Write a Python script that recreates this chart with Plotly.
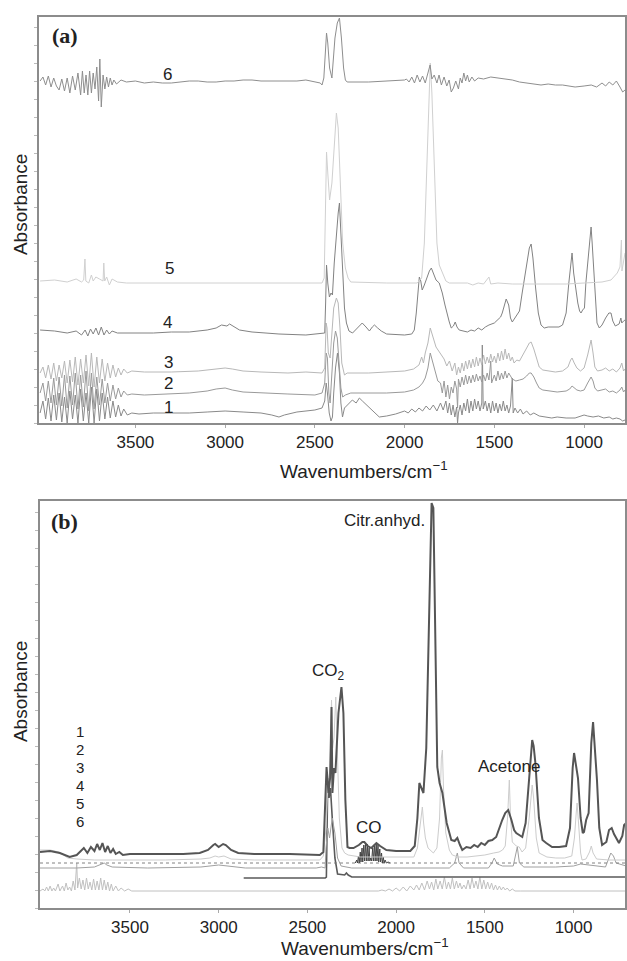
import plotly.graph_objects as go

# ---------------- Panel (a): wavenumber (cm-1), absorbance (a.u.) ----------------
a6 = [(4031, 3.42), (4015, 3.46), (4000, 3.38), (3985, 3.47), (3970, 3.36), (3955, 3.45), (3940, 3.37),
      (3925, 3.33), (3910, 3.44), (3895, 3.32), (3880, 3.45), (3865, 3.30), (3850, 3.47), (3835, 3.33),
      (3820, 3.50), (3805, 3.28), (3795, 3.52), (3785, 3.30), (3775, 3.48), (3765, 3.28), (3755, 3.52),
      (3745, 3.30), (3735, 3.50), (3725, 3.34), (3715, 3.56), (3705, 3.22), (3698, 3.64), (3690, 3.16),
      (3680, 3.48), (3670, 3.34), (3660, 3.46), (3650, 3.36), (3640, 3.45), (3630, 3.38), (3620, 3.43),
      (3605, 3.39), (3580, 3.43), (3550, 3.41), (3500, 3.42), (3450, 3.40), (3400, 3.41), (3350, 3.40),
      (3300, 3.40), (3250, 3.41), (3200, 3.42), (3150, 3.42), (3100, 3.41), (3050, 3.41), (3000, 3.42),
      (2950, 3.42), (2900, 3.43), (2850, 3.43), (2800, 3.42), (2750, 3.42), (2700, 3.42), (2650, 3.42),
      (2600, 3.42), (2550, 3.43), (2470, 3.40), (2460, 3.38), (2450, 3.45), (2440, 3.75), (2435, 3.90),
      (2428, 3.80), (2418, 3.55), (2405, 3.45), (2398, 3.60), (2388, 3.85), (2375, 4.00), (2363, 4.05),
      (2352, 3.85), (2340, 3.55), (2330, 3.43), (2320, 3.41), (2200, 3.41), (2100, 3.42), (2030, 3.42),
      (2000, 3.43), (1990, 3.44), (1975, 3.41), (1960, 3.46), (1945, 3.40), (1930, 3.48), (1915, 3.41),
      (1900, 3.47), (1885, 3.40), (1870, 3.50), (1858, 3.58), (1848, 3.44), (1835, 3.48), (1820, 3.40),
      (1808, 3.48), (1795, 3.38), (1780, 3.46), (1765, 3.37), (1752, 3.43), (1740, 3.31), (1728, 3.35),
      (1715, 3.42), (1700, 3.34), (1690, 3.45), (1680, 3.40), (1670, 3.50), (1660, 3.42), (1650, 3.48),
      (1640, 3.41), (1625, 3.46), (1610, 3.42), (1590, 3.45), (1560, 3.44), (1520, 3.46), (1480, 3.45),
      (1440, 3.44), (1400, 3.43), (1360, 3.41), (1320, 3.40), (1280, 3.39), (1240, 3.38), (1200, 3.39),
      (1160, 3.38), (1120, 3.38), (1080, 3.37), (1050, 3.36), (1000, 3.37), (960, 3.38), (930, 3.36),
      (900, 3.40), (880, 3.37), (860, 3.41), (840, 3.38), (820, 3.42), (800, 3.36), (785, 3.31), (772, 3.33)]

a5 = [(4031, 1.42), (3950, 1.43), (3880, 1.41), (3830, 1.44), (3800, 1.41), (3788, 1.43), (3781, 1.64),
      (3776, 1.42), (3760, 1.40), (3745, 1.48), (3735, 1.42), (3720, 1.46), (3700, 1.44), (3680, 1.42),
      (3676, 1.60), (3671, 1.42), (3660, 1.46), (3645, 1.38), (3630, 1.44), (3600, 1.41), (3550, 1.40),
      (3300, 1.40), (3000, 1.40), (2700, 1.40), (2460, 1.40), (2448, 1.45), (2440, 2.20), (2435, 2.71),
      (2428, 2.50), (2418, 2.23), (2405, 2.40), (2392, 2.80), (2380, 3.10), (2370, 2.95), (2360, 2.40),
      (2345, 1.80), (2330, 1.55), (2315, 1.45), (2300, 1.41), (2100, 1.40), (1930, 1.40), (1905, 1.45),
      (1890, 1.80), (1875, 2.60), (1865, 3.30), (1857, 3.60), (1848, 3.30), (1835, 2.50), (1820, 1.80),
      (1807, 1.58), (1790, 1.50), (1770, 1.42), (1751, 1.40), (1650, 1.40), (1620, 1.38), (1590, 1.40),
      (1560, 1.39), (1530, 1.46), (1520, 1.39), (1480, 1.40), (1400, 1.39), (1300, 1.39), (1200, 1.39),
      (1100, 1.39), (1000, 1.40), (900, 1.41), (850, 1.43), (815, 1.50), (800, 1.56), (792, 1.83),
      (789, 1.52), (780, 1.60), (772, 1.70)]

a4 = [(4031, 0.93), (3950, 0.92), (3880, 0.90), (3830, 0.92), (3800, 0.88), (3780, 0.93), (3765, 0.87),
      (3750, 0.94), (3735, 0.89), (3720, 0.95), (3705, 0.88), (3690, 0.96), (3675, 0.88), (3660, 0.93),
      (3645, 0.89), (3630, 0.92), (3600, 0.90), (3500, 0.90), (3400, 0.90), (3300, 0.91), (3200, 0.91),
      (3100, 0.93), (3050, 0.95), (3020, 0.98), (2990, 0.97), (2975, 0.99), (2950, 0.96), (2920, 0.93),
      (2850, 0.91), (2700, 0.89), (2550, 0.88), (2470, 0.89), (2445, 0.90), (2440, 1.20), (2435, 1.58),
      (2428, 1.40), (2419, 1.26), (2410, 1.30), (2402, 1.28), (2392, 1.60), (2380, 1.90), (2370, 2.10),
      (2363, 2.20), (2355, 1.90), (2345, 1.45), (2335, 1.15), (2324, 1.00), (2310, 0.92), (2290, 0.90),
      (2260, 0.95), (2236, 1.00), (2215, 0.96), (2196, 0.92), (2180, 0.96), (2168, 0.98), (2150, 0.95),
      (2130, 0.92), (2100, 0.89), (2000, 0.88), (1960, 0.89), (1946, 0.93), (1935, 1.10), (1925, 1.35),
      (1918, 1.46), (1910, 1.42), (1902, 1.33), (1890, 1.38), (1875, 1.46), (1862, 1.52), (1851, 1.55),
      (1840, 1.50), (1825, 1.43), (1807, 1.40), (1790, 1.30), (1775, 1.18), (1760, 1.06), (1751, 1.01),
      (1740, 0.95), (1728, 0.97), (1718, 1.01), (1708, 0.96), (1696, 0.93), (1670, 0.92), (1650, 0.91),
      (1630, 0.93), (1610, 0.92), (1590, 0.95), (1570, 0.93), (1550, 0.96), (1530, 0.98), (1500, 1.00),
      (1480, 1.04), (1465, 1.06), (1456, 1.10), (1445, 1.18), (1434, 1.24), (1420, 1.18), (1410, 1.05),
      (1400, 1.01), (1390, 1.04), (1375, 1.08), (1360, 1.12), (1345, 1.30), (1320, 1.60), (1305, 1.75),
      (1295, 1.79), (1285, 1.65), (1270, 1.35), (1255, 1.10), (1240, 0.98), (1222, 0.95), (1200, 0.96),
      (1170, 0.96), (1140, 0.96), (1120, 0.98), (1100, 1.10), (1085, 1.40), (1067, 1.70), (1058, 1.50),
      (1045, 1.30), (1035, 1.20), (1025, 1.12), (1017, 1.10), (1008, 1.13), (998, 1.15), (990, 1.40),
      (975, 1.70), (961, 1.96), (955, 1.80), (945, 1.50), (935, 1.15), (928, 1.00), (915, 0.95),
      (900, 0.98), (880, 1.05), (862, 1.10), (850, 1.10), (840, 1.02), (826, 0.97), (817, 0.98),
      (805, 0.99), (795, 1.05), (790, 1.00), (780, 1.02), (772, 1.03)]

a3 = [(4031, 0.50), (4015, 0.56), (4000, 0.45), (3985, 0.58), (3970, 0.44), (3955, 0.60), (3940, 0.42),
      (3925, 0.58), (3910, 0.45), (3895, 0.62), (3880, 0.40), (3865, 0.63), (3850, 0.41), (3835, 0.66),
      (3820, 0.38), (3805, 0.64), (3790, 0.40), (3775, 0.68), (3760, 0.37), (3745, 0.70), (3730, 0.36),
      (3715, 0.66), (3700, 0.40), (3685, 0.64), (3670, 0.42), (3655, 0.60), (3640, 0.45), (3625, 0.58),
      (3610, 0.46), (3595, 0.55), (3580, 0.48), (3565, 0.54), (3545, 0.50), (3520, 0.52), (3450, 0.51),
      (3300, 0.51), (3150, 0.52), (3050, 0.54), (3000, 0.55), (2960, 0.54), (2900, 0.52), (2800, 0.51),
      (2650, 0.50), (2550, 0.51), (2460, 0.50), (2445, 0.55), (2437, 1.00), (2432, 0.95), (2425, 0.70),
      (2415, 0.65), (2405, 0.90), (2395, 1.15), (2380, 1.25), (2370, 1.20), (2360, 0.95), (2350, 0.60),
      (2335, 0.48), (2320, 0.50), (2200, 0.50), (2100, 0.51), (2000, 0.52), (1950, 0.54), (1920, 0.58),
      (1905, 0.66), (1895, 0.60), (1885, 0.70), (1870, 0.80), (1857, 0.95), (1840, 0.85), (1825, 0.76),
      (1810, 0.72), (1795, 0.68), (1780, 0.64), (1765, 0.57), (1750, 0.62), (1735, 0.52), (1720, 0.60),
      (1710, 0.48), (1700, 0.56), (1690, 0.50), (1680, 0.60), (1670, 0.52), (1660, 0.62), (1650, 0.54),
      (1640, 0.63), (1630, 0.55), (1620, 0.64), (1610, 0.56), (1600, 0.66), (1590, 0.57), (1580, 0.65),
      (1570, 0.58), (1560, 0.68), (1550, 0.59), (1540, 0.66), (1530, 0.60), (1520, 0.69), (1510, 0.61),
      (1500, 0.67), (1490, 0.60), (1480, 0.70), (1470, 0.62), (1460, 0.72), (1450, 0.63), (1440, 0.74),
      (1430, 0.64), (1420, 0.70), (1410, 0.62), (1400, 0.66), (1390, 0.60), (1375, 0.63), (1360, 0.62),
      (1340, 0.68), (1320, 0.75), (1305, 0.80), (1295, 0.81), (1280, 0.74), (1265, 0.64), (1250, 0.56),
      (1230, 0.53), (1200, 0.52), (1160, 0.51), (1120, 0.52), (1090, 0.56), (1075, 0.63), (1067, 0.65),
      (1055, 0.60), (1040, 0.55), (1020, 0.52), (1000, 0.55), (980, 0.68), (961, 0.83), (950, 0.70),
      (940, 0.56), (925, 0.52), (900, 0.53), (880, 0.55), (860, 0.52), (840, 0.54), (820, 0.51),
      (800, 0.55), (790, 0.60), (780, 0.52), (772, 0.54)]

a2 = [(4031, 0.30), (4015, 0.40), (4000, 0.22), (3985, 0.42), (3970, 0.20), (3955, 0.45), (3940, 0.18),
      (3925, 0.46), (3910, 0.17), (3895, 0.48), (3880, 0.15), (3865, 0.47), (3850, 0.18), (3835, 0.50),
      (3820, 0.14), (3805, 0.48), (3790, 0.16), (3775, 0.52), (3760, 0.12), (3745, 0.50), (3730, 0.14),
      (3715, 0.46), (3700, 0.18), (3685, 0.44), (3670, 0.20), (3655, 0.40), (3640, 0.22), (3625, 0.38),
      (3610, 0.24), (3595, 0.35), (3580, 0.26), (3565, 0.32), (3545, 0.28), (3520, 0.29), (3450, 0.28),
      (3350, 0.29), (3200, 0.30), (3100, 0.32), (3050, 0.34), (3000, 0.35), (2960, 0.33), (2900, 0.31),
      (2800, 0.30), (2650, 0.29), (2500, 0.28), (2460, 0.30), (2445, 0.40), (2437, 0.70), (2430, 0.65),
      (2422, 0.30), (2415, 0.20), (2405, 0.50), (2395, 0.80), (2385, 0.92), (2375, 0.85), (2365, 0.60),
      (2355, 0.35), (2345, 0.26), (2330, 0.28), (2300, 0.30), (2200, 0.30), (2100, 0.30), (2000, 0.31),
      (1950, 0.33), (1920, 0.36), (1900, 0.40), (1885, 0.45), (1870, 0.55), (1857, 0.70), (1845, 0.62),
      (1830, 0.50), (1815, 0.42), (1800, 0.40), (1790, 0.30), (1780, 0.42), (1770, 0.26), (1760, 0.38),
      (1750, 0.24), (1740, 0.36), (1730, 0.30), (1720, 0.42), (1710, 0.34), (1705, 0.15), (1700, 0.44),
      (1690, 0.36), (1680, 0.46), (1670, 0.38), (1660, 0.48), (1650, 0.39), (1640, 0.47), (1630, 0.40),
      (1620, 0.48), (1610, 0.41), (1600, 0.49), (1590, 0.42), (1580, 0.47), (1570, 0.41), (1560, 0.48),
      (1550, 0.42), (1540, 0.50), (1530, 0.43), (1520, 0.62), (1515, 0.40), (1500, 0.48), (1490, 0.42),
      (1480, 0.52), (1470, 0.43), (1460, 0.50), (1450, 0.44), (1440, 0.52), (1430, 0.45), (1420, 0.50),
      (1400, 0.44), (1380, 0.42), (1360, 0.43), (1340, 0.44), (1320, 0.47), (1305, 0.50), (1295, 0.50),
      (1280, 0.46), (1265, 0.40), (1250, 0.35), (1230, 0.33), (1200, 0.32), (1150, 0.31), (1100, 0.32),
      (1080, 0.34), (1067, 0.37), (1055, 0.35), (1040, 0.33), (1020, 0.32), (1000, 0.33), (980, 0.40),
      (961, 0.46), (950, 0.42), (940, 0.35), (925, 0.32), (900, 0.33), (880, 0.34), (860, 0.31),
      (840, 0.32), (820, 0.30), (800, 0.33), (790, 0.36), (780, 0.31), (772, 0.33)]

a1 = [(4031, 0.10), (4015, 0.22), (4000, 0.04), (3985, 0.25), (3970, 0.02), (3955, 0.28), (3940, 0.03),
      (3925, 0.30), (3910, 0.01), (3895, 0.26), (3880, 0.00), (3865, 0.32), (3850, 0.04), (3835, 0.28),
      (3820, 0.00), (3805, 0.34), (3790, 0.02), (3775, 0.30), (3760, 0.00), (3745, 0.36), (3730, 0.00),
      (3715, 0.34), (3700, 0.02), (3685, 0.30), (3670, 0.04), (3655, 0.26), (3640, 0.05), (3625, 0.22),
      (3610, 0.06), (3595, 0.18), (3580, 0.07), (3565, 0.14), (3545, 0.08), (3520, 0.10), (3480, 0.09),
      (3400, 0.10), (3300, 0.10), (3200, 0.10), (3100, 0.11), (3000, 0.12), (2900, 0.11), (2800, 0.10),
      (2740, 0.08), (2700, 0.06), (2670, 0.08), (2600, 0.11), (2500, 0.13), (2460, 0.15), (2445, 0.22),
      (2437, 0.40), (2430, 0.30), (2420, 0.10), (2410, 0.02), (2402, 0.06), (2395, 0.30), (2385, 0.55),
      (2374, 0.70), (2363, 0.50), (2355, 0.20), (2346, 0.06), (2335, 0.15), (2320, 0.18), (2300, 0.22),
      (2291, 0.23), (2270, 0.20), (2252, 0.25), (2235, 0.22), (2200, 0.16), (2160, 0.10), (2141, 0.06),
      (2100, 0.07), (2050, 0.09), (2000, 0.12), (1980, 0.10), (1960, 0.14), (1940, 0.11), (1920, 0.15),
      (1900, 0.12), (1880, 0.17), (1860, 0.13), (1840, 0.18), (1820, 0.12), (1800, 0.20), (1785, 0.13),
      (1770, 0.22), (1760, 0.10), (1750, 0.20), (1740, 0.08), (1730, 0.18), (1720, 0.06), (1710, 0.16),
      (1705, 0.00), (1700, 0.10), (1690, 0.18), (1680, 0.08), (1670, 0.20), (1660, 0.12), (1650, 0.24),
      (1640, 0.10), (1630, 0.22), (1620, 0.12), (1610, 0.24), (1600, 0.14), (1590, 0.22), (1580, 0.12),
      (1570, 0.20), (1567, 0.78), (1562, 0.14), (1550, 0.22), (1540, 0.12), (1530, 0.20), (1520, 0.10),
      (1510, 0.22), (1500, 0.12), (1490, 0.20), (1480, 0.10), (1470, 0.19), (1460, 0.12), (1450, 0.22),
      (1440, 0.12), (1430, 0.18), (1420, 0.10), (1410, 0.17), (1400, 0.45), (1395, 0.10), (1385, 0.15),
      (1370, 0.10), (1355, 0.14), (1340, 0.09), (1320, 0.12), (1300, 0.08), (1280, 0.10), (1250, 0.07),
      (1220, 0.06), (1180, 0.05), (1150, 0.06), (1100, 0.05), (1050, 0.05), (1020, 0.07), (1000, 0.08),
      (980, 0.07), (950, 0.06), (920, 0.07), (890, 0.05), (860, 0.06), (840, 0.04), (820, 0.05),
      (800, 0.04), (785, 0.02), (772, 0.03)]

# ---------------- Panel (b) ----------------
b6 = [(4007, 0.56), (3950, 0.57), (3895, 0.55), (3840, 0.51), (3800, 0.53), (3760, 0.60), (3740, 0.55),
      (3720, 0.61), (3700, 0.57), (3685, 0.64), (3670, 0.58), (3655, 0.65), (3640, 0.56), (3625, 0.62),
      (3610, 0.55), (3595, 0.59), (3580, 0.54), (3560, 0.56), (3540, 0.53), (3500, 0.54), (3400, 0.54),
      (3300, 0.54), (3200, 0.54), (3107, 0.55), (3060, 0.58), (3030, 0.63), (3020, 0.64), (3000, 0.61),
      (2975, 0.64), (2960, 0.63), (2930, 0.58), (2890, 0.55), (2800, 0.54), (2600, 0.54), (2430, 0.53),
      (2410, 0.56), (2400, 1.00), (2392, 1.41), (2385, 1.25), (2381, 1.15), (2372, 1.30), (2364, 2.01),
      (2359, 1.15), (2350, 1.40), (2342, 1.35), (2325, 1.95), (2308, 2.21), (2297, 1.95), (2286, 1.08),
      (2274, 0.61), (2263, 0.60), (2240, 0.60), (2210, 0.63), (2190, 0.66), (2179, 0.66), (2160, 0.62),
      (2140, 0.60), (2120, 0.64), (2111, 0.65), (2090, 0.62), (2055, 0.58), (2000, 0.57), (1920, 0.57),
      (1895, 0.62), (1880, 0.90), (1869, 1.25), (1858, 1.20), (1846, 1.15), (1830, 1.60), (1815, 3.00),
      (1800, 4.05), (1790, 4.00), (1780, 2.60), (1768, 1.41), (1755, 1.25), (1739, 1.15), (1715, 0.85),
      (1689, 0.68), (1670, 0.67), (1655, 0.70), (1640, 0.63), (1627, 0.58), (1604, 0.61), (1580, 0.60),
      (1560, 0.63), (1540, 0.61), (1520, 0.65), (1500, 0.63), (1480, 0.67), (1458, 0.68), (1436, 0.71),
      (1415, 0.82), (1402, 0.88), (1385, 0.95), (1368, 0.98), (1350, 0.88), (1335, 0.78), (1323, 0.75),
      (1300, 0.72), (1289, 0.71), (1270, 0.85), (1250, 1.30), (1233, 1.68), (1225, 1.62), (1215, 1.45),
      (1195, 0.90), (1175, 0.68), (1154, 0.65), (1121, 0.61), (1081, 0.61), (1042, 0.62), (1020, 0.80),
      (1005, 1.40), (997, 1.55), (985, 1.40), (975, 1.30), (960, 0.90), (948, 0.75), (941, 0.76),
      (929, 0.88), (915, 0.95), (900, 1.65), (890, 1.86), (880, 1.60), (868, 1.28), (855, 0.80),
      (839, 0.63), (815, 0.66), (800, 0.78), (785, 0.80), (772, 0.74), (744, 0.65), (725, 0.72),
      (715, 0.83), (704, 0.85)]

b5 = [(4007, 0.58), (3950, 0.58), (3900, 0.56), (3850, 0.50), (3800, 0.49), (3700, 0.48), (3600, 0.48),
      (3500, 0.48), (3300, 0.48), (3100, 0.49), (3050, 0.50), (3020, 0.52), (3000, 0.51), (2970, 0.52),
      (2930, 0.49), (2800, 0.48), (2600, 0.48), (2430, 0.48), (2410, 0.52), (2395, 0.80), (2385, 1.20),
      (2372, 1.40), (2364, 2.08), (2358, 1.60), (2350, 1.70), (2340, 2.11), (2330, 1.50), (2320, 0.90),
      (2305, 0.60), (2290, 0.55), (2270, 0.53), (2200, 0.51), (2100, 0.51), (2000, 0.51), (1900, 0.51),
      (1880, 0.60), (1865, 0.85), (1852, 1.01), (1845, 0.85), (1835, 0.70), (1820, 0.60), (1790, 0.55),
      (1770, 0.60), (1755, 0.90), (1745, 1.50), (1739, 1.58), (1733, 1.20), (1720, 0.75), (1700, 0.58),
      (1683, 0.53), (1650, 0.51), (1600, 0.51), (1550, 0.52), (1500, 0.53), (1450, 0.55), (1420, 0.56),
      (1400, 0.58), (1385, 0.62), (1372, 0.90), (1362, 1.28), (1355, 0.90), (1345, 0.66), (1323, 0.62),
      (1306, 0.61), (1290, 0.56), (1270, 0.60), (1250, 0.90), (1240, 1.15), (1233, 1.23), (1225, 1.10),
      (1210, 0.70), (1194, 0.55), (1150, 0.51), (1100, 0.50), (1050, 0.50), (1010, 0.52), (995, 0.70),
      (985, 0.95), (980, 1.05), (972, 0.85), (960, 0.55), (952, 0.48), (930, 0.49), (910, 0.56),
      (900, 0.62), (890, 0.55), (870, 0.49), (800, 0.48), (750, 0.48), (704, 0.48)]

b4 = [(4007, 0.45), (704, 0.45)]

b3 = [(4007, 0.40), (3800, 0.40), (3700, 0.41), (3660, 0.44), (3645, 0.45), (3630, 0.43), (3600, 0.41),
      (3400, 0.40), (3100, 0.41), (3000, 0.43), (2950, 0.42), (2850, 0.40), (2450, 0.40), (2420, 0.41),
      (2400, 0.40), (2395, 0.60), (2385, 0.80), (2375, 0.70), (2360, 0.90), (2345, 0.75), (2330, 0.50),
      (2310, 0.42), (2250, 0.40), (1700, 0.40), (1670, 0.45), (1655, 0.55), (1645, 0.45), (1620, 0.40),
      (1480, 0.40), (1460, 0.45), (1447, 0.50), (1430, 0.44), (1400, 0.42), (1340, 0.42), (1317, 0.61),
      (1305, 0.45), (1280, 0.41), (1100, 0.41), (1000, 0.42), (960, 0.44), (820, 0.41), (790, 0.55),
      (775, 0.52), (760, 0.45), (704, 0.42)]

b_co = [(2230, 0.45), (2222, 0.48), (2218, 0.45), (2212, 0.52), (2208, 0.45), (2202, 0.56), (2198, 0.46),
        (2192, 0.60), (2188, 0.46), (2182, 0.63), (2178, 0.47), (2172, 0.65), (2168, 0.47), (2162, 0.64),
        (2158, 0.47), (2152, 0.60), (2148, 0.47), (2143, 0.50), (2138, 0.47), (2132, 0.60), (2128, 0.47),
        (2122, 0.64), (2118, 0.47), (2112, 0.65), (2108, 0.47), (2102, 0.63), (2098, 0.46), (2092, 0.59),
        (2088, 0.46), (2082, 0.55), (2078, 0.45), (2072, 0.51), (2068, 0.45), (2062, 0.48), (2055, 0.45),
        (2045, 0.46), (2035, 0.45)]

b2 = [(2859, 0.30), (2700, 0.30), (2500, 0.30), (2400, 0.30), (2393, 0.31), (2390, 0.80), (2385, 1.30),
      (2378, 1.10), (2370, 1.20), (2360, 0.90), (2345, 0.50), (2330, 0.34), (2290, 0.33), (2280, 0.35),
      (2270, 0.33), (2250, 0.31), (2100, 0.31), (1800, 0.31), (1500, 0.31), (1000, 0.31), (704, 0.31)]

b1 = [(4007, 0.17), (3990, 0.19), (3980, 0.17), (3970, 0.21), (3960, 0.17), (3950, 0.22), (3940, 0.17),
      (3930, 0.20), (3920, 0.17), (3905, 0.24), (3895, 0.17), (3880, 0.22), (3870, 0.17), (3860, 0.25),
      (3850, 0.18), (3840, 0.21), (3830, 0.17), (3820, 0.27), (3810, 0.18), (3800, 0.45), (3795, 0.20),
      (3785, 0.30), (3775, 0.19), (3765, 0.28), (3755, 0.18), (3745, 0.30), (3735, 0.19), (3725, 0.26),
      (3715, 0.18), (3705, 0.29), (3695, 0.18), (3685, 0.27), (3675, 0.18), (3665, 0.30), (3655, 0.18),
      (3645, 0.28), (3635, 0.18), (3625, 0.26), (3615, 0.17), (3605, 0.24), (3595, 0.17), (3580, 0.22),
      (3565, 0.17), (3550, 0.20), (3530, 0.17), (3510, 0.19), (3490, 0.17), (3400, 0.17), (3000, 0.17),
      (2100, 0.17), (2080, 0.18), (2060, 0.17), (2040, 0.19), (2020, 0.17), (2000, 0.20), (1980, 0.17),
      (1960, 0.21), (1940, 0.17), (1920, 0.22), (1900, 0.18), (1885, 0.23), (1870, 0.18), (1855, 0.25),
      (1840, 0.18), (1825, 0.27), (1812, 0.19), (1800, 0.26), (1788, 0.18), (1776, 0.29), (1765, 0.19),
      (1752, 0.27), (1740, 0.19), (1728, 0.31), (1716, 0.19), (1705, 0.26), (1694, 0.19), (1683, 0.30),
      (1672, 0.19), (1660, 0.27), (1650, 0.20), (1640, 0.25), (1630, 0.19), (1618, 0.23), (1606, 0.19),
      (1594, 0.28), (1583, 0.19), (1572, 0.30), (1561, 0.20), (1550, 0.27), (1539, 0.19), (1528, 0.31),
      (1517, 0.19), (1506, 0.28), (1495, 0.19), (1484, 0.26), (1473, 0.19), (1462, 0.25), (1451, 0.18),
      (1440, 0.23), (1429, 0.18), (1418, 0.22), (1407, 0.18), (1396, 0.21), (1385, 0.18), (1374, 0.20),
      (1360, 0.17), (1345, 0.19), (1330, 0.17), (1300, 0.17), (1000, 0.17), (704, 0.17)]

tick_vals = [3500, 3000, 2500, 2000, 1500, 1000]
curve_labels = ["1", "2", "3", "4", "5", "6"]

# ---------------- figure ----------------
W, H = 627, 961
L = 39


def px(x):
    return (x - L) / (W - L)


def py(y):
    return 1 - y / H


fig = go.Figure()


def add(series, xa, ya, color, width=1.0, dash="solid"):
    fig.add_trace(go.Scatter(x=[p[0] for p in series], y=[p[1] for p in series], mode="lines",
                             xaxis=xa, yaxis=ya, showlegend=False, hoverinfo="skip",
                             line=dict(color=color, width=width, dash=dash)))


# panel (a)
add(a1, "x", "y", "#8a8a8a")
add(a2, "x", "y", "#9a9a9a")
add(a3, "x", "y", "#b8b8b8")
add(a4, "x", "y", "#828282")
add(a5, "x", "y", "#d0d0d0")
add(a6, "x", "y", "#8e8e8e")

# panel (b)
add(b1, "x2", "y2", "#c0c0c0")
add(b2, "x2", "y2", "#5a5a5a", 1.6)
add(b3, "x2", "y2", "#a0a0a0")
add(b4, "x2", "y2", "#808080", 1.0, "dot")
add(b_co, "x2", "y2", "#444444", 1.0)
add(b5, "x2", "y2", "#cccccc")
add(b6, "x2", "y2", "#555555", 2.0)

axis_common = dict(showgrid=False, zeroline=False, showline=True, linecolor="#8c8c8c", linewidth=1.5,
                   mirror=True)
xcommon = dict(axis_common, tickmode="array", tickvals=tick_vals, ticks="outside", ticklen=3,
               tickcolor="#aaaaaa", tickfont=dict(family="Liberation Sans, Arial", size=17, color="#222"))
ycommon = dict(axis_common, showticklabels=False, ticks="outside", ticklen=3, tickcolor="#bbbbbb",
               tick0=0, dtick=0.18)

fig.update_layout(
    width=W, height=H, margin=dict(l=L, r=0, t=0, b=0),
    paper_bgcolor="white", plot_bgcolor="white",
    xaxis=dict(xcommon, domain=[0, 1], range=[4037, 772], anchor="y"),
    yaxis=dict(ycommon, domain=[py(423), py(17)], range=[0, 4.06], anchor="x"),
    xaxis2=dict(xcommon, domain=[px(40), 1], range=[4007, 710], anchor="y2"),
    yaxis2=dict(ycommon, domain=[py(908), py(501)], range=[0, 4.07], anchor="x2"),
)

sans = "Liberation Sans, Arial, sans-serif"
ann = []


def text(x, y, s, size=17, family=sans, xanchor="center", angle=0, color="#222"):
    ann.append(dict(x=px(x), y=py(y), xref="paper", yref="paper", text=s, showarrow=False,
                    xanchor=xanchor, yanchor="middle", textangle=angle,
                    font=dict(family=family, size=size, color=color)))


# panel labels
text(65, 35, "<b>(a)</b>", 22, "Liberation Serif, Times New Roman, serif")
text(65, 521, "<b>(b)</b>", 22, "Liberation Serif, Times New Roman, serif")

# axis titles
text(20, 205, "Absorbance", 19, angle=-90)
text(20, 692, "Absorbance", 19, angle=-90)
text(365, 470, "Wavenumbers/cm<sup>\u22121</sup>", 19)
text(366, 947, "Wavenumbers/cm<sup>\u22121</sup>", 19)

# curve labels, panel (a)
a_label_pos = [(169, 408), (169, 383), (169, 362), (168, 322), (170, 269), (168, 74)]
for lab, (x, y) in zip(curve_labels, a_label_pos):
    text(x, y, lab)

# curve labels, panel (b): stacked list at the left
b_label_y = [731, 749, 767, 785, 803, 821]
for lab, y in zip(curve_labels, b_label_y):
    text(80, y, lab, 15)

# species annotations
text(428, 520, "Citr.anhyd.", 17, xanchor="right")
text(329, 672, "CO<sub>2</sub>", 17)
text(370, 827, "CO", 17)
text(511, 766, "Acetone", 17)

fig.update_layout(annotations=ann)
fig.write_html("out.html")
